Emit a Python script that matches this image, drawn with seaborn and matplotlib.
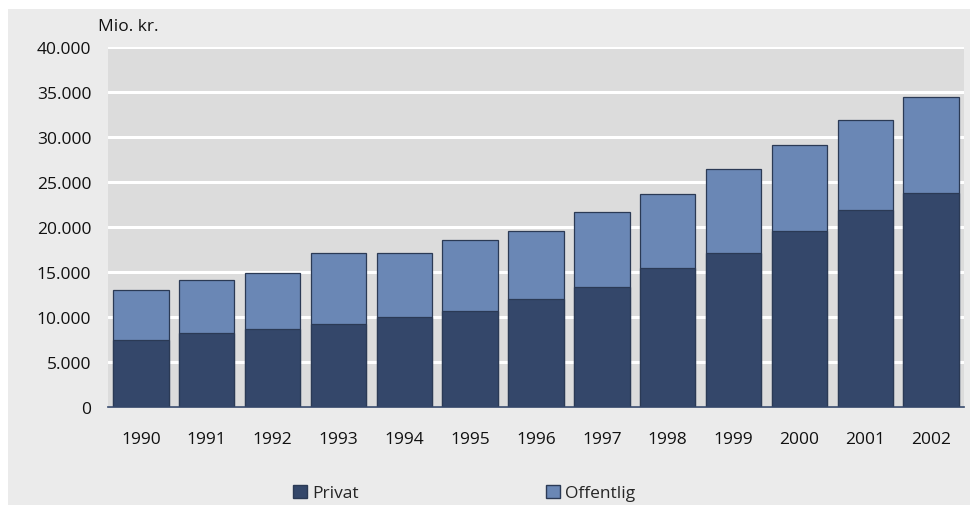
import numpy as np
import pandas as pd
import seaborn as sns
import matplotlib.pyplot as plt
from matplotlib.patches import Rectangle, Patch
from matplotlib.ticker import FuncFormatter

years = ['1990', '1991', '1992', '1993', '1994', '1995', '1996',
         '1997', '1998', '1999', '2000', '2001', '2002']
privat = [7400, 8250, 8700, 9200, 9950, 10650, 12000,
          13300, 15400, 17100, 19500, 21900, 23800]
offentlig = [5600, 5850, 6200, 7900, 7200, 7850, 7600,
             8400, 8300, 9300, 9600, 10000, 10600]

c_priv = '#34476a'
c_off = '#6a87b5'
edge = '#2b3a55'

df = pd.DataFrame({'year': years, 'Privat': privat, 'Offentlig': offentlig})
df['total'] = df['Privat'] + df['Offentlig']

sns.set_style('white')
plt.rcParams['font.family'] = ['Open Sans', 'DejaVu Sans']

fig = plt.figure(figsize=(9.78, 5.10), dpi=100, facecolor='white')
fig.patches.append(Rectangle((8/978, 4/510), 962/978, 496/510,
                             transform=fig.transFigure, facecolor='#ebebeb',
                             edgecolor='none', zorder=-10))
ax = fig.add_axes([108/978, 1-408/510, 856/978, 360/510])
ax.set_facecolor('#dcdcdc')

sns.barplot(data=df, x='year', y='total', color=c_off, width=0.84,
            edgecolor=edge, linewidth=0.9, saturation=1, ax=ax, zorder=3)
sns.barplot(data=df, x='year', y='Privat', color=c_priv, width=0.84,
            edgecolor=edge, linewidth=0.9, saturation=1, ax=ax, zorder=4)

ax.set_ylim(0, 40000)
ax.set_xlim(-0.5, len(years) - 0.5)
ax.set_yticks(np.arange(0, 40001, 5000))
ax.yaxis.set_major_formatter(FuncFormatter(lambda v, p: f'{int(v):,}'.replace(',', '.')))
ax.grid(axis='y', color='white', linewidth=2.2, zorder=0)
ax.set_axisbelow(True)
ax.tick_params(axis='both', length=0, labelsize=12.5, colors='#111111')
ax.tick_params(axis='y', pad=12)
ax.tick_params(axis='x', pad=17)
ax.set_xlabel('')
ax.set_ylabel('')
for s in ['top', 'right', 'left']:
    ax.spines[s].set_visible(False)
ax.spines['bottom'].set_color(c_priv)
ax.spines['bottom'].set_linewidth(1.2)
ax.spines['bottom'].set_zorder(5)

fig.text(98/978, 1-27/510, 'Mio. kr.', fontsize=12.5, va='center', ha='left', color='#111111')

handles = [Patch(facecolor=c_priv, edgecolor=edge, label='Privat'),
           Patch(facecolor=c_off, edgecolor=edge, label='Offentlig')]
fig.legend(handles=handles, loc='center left', bbox_to_anchor=(293/978, 1-494/510),
           ncol=2, frameon=False, fontsize=12.5, handlelength=0.8, handleheight=0.8,
           handletextpad=0.3, columnspacing=10.8, borderaxespad=0, borderpad=0)

fig.savefig('out.png', dpi=100, facecolor=fig.get_facecolor())
